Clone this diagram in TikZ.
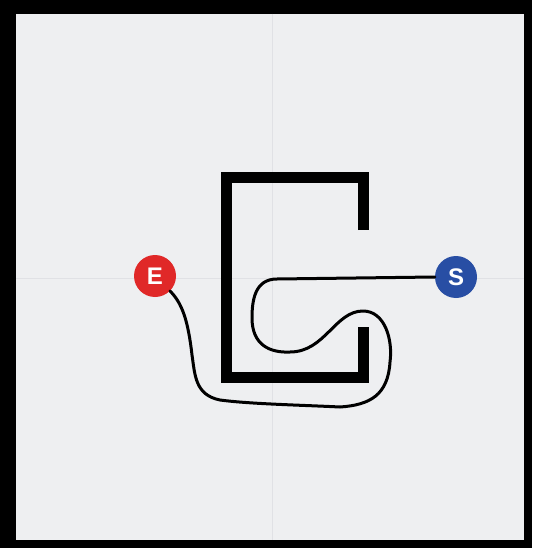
\documentclass[tikz,border=0pt]{standalone}
\usepackage{fontspec}
\setmainfont{Liberation Sans}
\definecolor{bg}{RGB}{238,239,241}
\definecolor{guide}{RGB}{224,225,229}
\definecolor{ered}{RGB}{224,40,40}
\definecolor{sblue}{RGB}{40,78,164}
\begin{document}
\begin{tikzpicture}[x=1pt,y=-1pt,
  wall/.style={line width=11pt,line cap=butt,line join=miter},
  route/.style={line width=3pt,line cap=round,line join=round},
  marker/.style={circle,minimum size=42pt,inner sep=0pt,text=white,font=\bfseries\fontsize{24}{24}\selectfont}]
\useasboundingbox (0,0) rectangle (532,548);
\fill[black] (0,0) rectangle (532,548);
\fill[bg] (16,14) rectangle (524,540);
\draw[guide,line width=0.8pt] (272,14) -- (272,540);
\draw[guide,line width=0.8pt] (16,278) -- (524,278);
% C-shaped wall
\draw[wall] (363,230) -- (363,177.5) -- (226,177.5) -- (226,377.5) -- (363,377.5) -- (363,327);
% markers
\node[marker,fill=ered] (E) at (155,276) {E};
\node[marker,fill=sblue] (S) at (456,277) {S};
% route
\draw[route] (S.west) -- (277,279)
  .. controls (255,279) and (252,300) .. (252,318)
  .. controls (252,345) and (270,353) .. (290,352)
  .. controls (325,352) and (335,311) .. (363,311)
  .. controls (385,311) and (393,340) .. (390,362)
  .. controls (388,395) and (370,405) .. (340,407)
  .. controls (300,405) and (250,404) .. (220,400)
  .. controls (195,395) and (195,375) .. (192,355)
  .. controls (188,320) and (182,303) .. (E.south east);
\end{tikzpicture}
\end{document}
